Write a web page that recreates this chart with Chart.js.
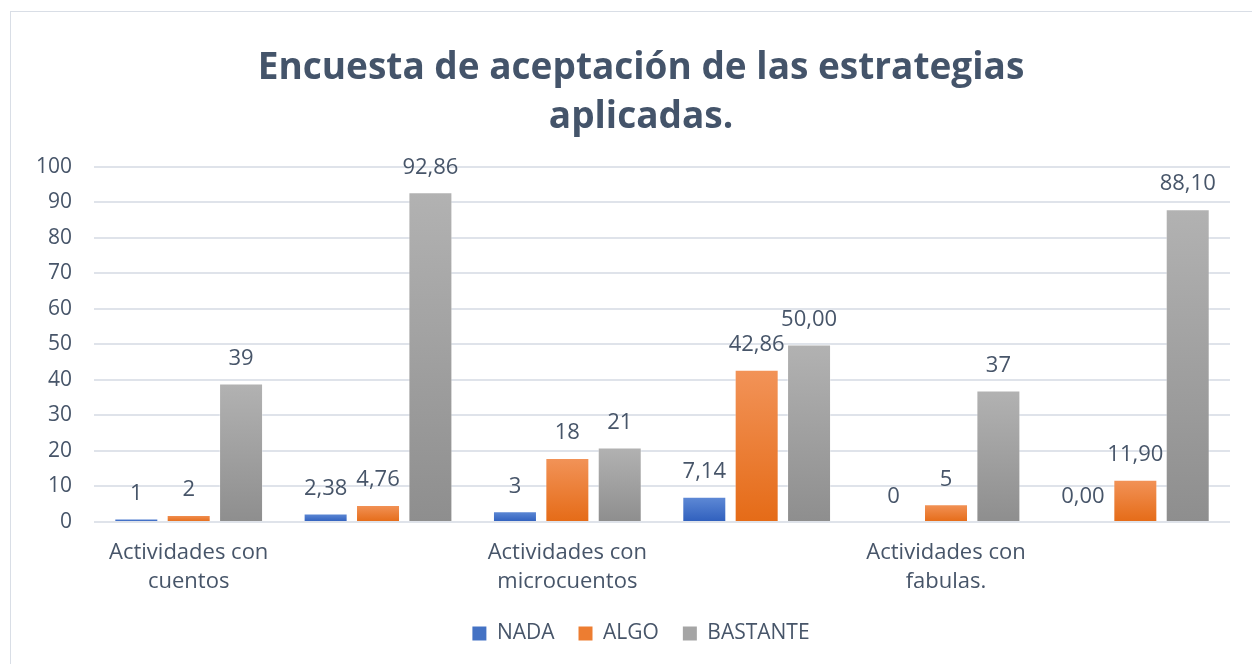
<!DOCTYPE html>
<html>
<head>
<meta charset="utf-8">
<script src="https://cdn.jsdelivr.net/npm/chart.js@4.4.1/dist/chart.umd.min.js"></script>
<style>
  html,body{margin:0;padding:0;background:#fff;overflow:hidden;}
  #marco{position:absolute;left:10px;top:11px;width:1280px;height:670px;border:1px solid #d9dee6;box-sizing:border-box;}
  #caja{position:absolute;left:0;top:0;width:1268px;height:664px;}
</style>
</head>
<body>
<div id="marco"></div>
<div id="caja"><canvas id="grafico"></canvas></div>
<script>
const categorie = [['Actividades con','cuentos'], '', ['Actividades con','microcuentos'], '', ['Actividades con','fabulas.'], ''];
const decimali = [0, 2, 0, 2, 0, 2];
const nada = [1, 2.38, 3, 7.14, 0, 0];
const algo = [2, 4.76, 18, 42.86, 5, 11.90];
const bastante = [39, 92.86, 21, 50.00, 37, 88.10];
const tickY = [0, 10, 20, 30, 40, 50, 60, 70, 80, 90, 100];

const testo = '#475569';

function gradiente(alto, basso){
  return function(c){
    const ch = c.chart;
    if(!ch.chartArea || c.dataIndex===undefined) return basso;
    const y = ch.scales.y;
    const v = c.dataset.data[c.dataIndex];
    const top = y.getPixelForValue(v), bot = y.getPixelForValue(0);
    if(bot-top < 1) return basso;
    const g = ch.ctx.createLinearGradient(0, top, 0, bot);
    g.addColorStop(0, alto);
    g.addColorStop(1, basso);
    return g;
  };
}

const etichette = {
  id:'etichette',
  afterDatasetsDraw(chart){
    const ctx = chart.ctx;
    ctx.save();
    ctx.font = '22px "Open Sans"';
    ctx.fillStyle = testo;
    ctx.textAlign = 'center';
    ctx.textBaseline = 'middle';
    chart.data.datasets.forEach((ds, di)=>{
      chart.getDatasetMeta(di).data.forEach((bar, i)=>{
        const s = ds.data[i].toFixed(decimali[i]).replace('.', ',');
        ctx.fillText(s, bar.x, bar.y - 25);
      });
    });
    ctx.restore();
  }
};

const ctx = document.getElementById('grafico').getContext('2d');
new Chart(ctx, {
  type:'bar',
  data:{
    labels:categorie,
    datasets:[
      {label:'NADA', data:nada, backgroundColor:gradiente('#5f8ad6','#2f5fbd'), borderColor:'rgba(255,255,255,0.35)', borderWidth:1},
      {label:'ALGO', data:algo, backgroundColor:gradiente('#f29358','#e56b17'), borderColor:'rgba(255,255,255,0.35)', borderWidth:1},
      {label:'BASTANTE', data:bastante, backgroundColor:gradiente('#b2b2b2','#8e8e8e'), borderColor:'rgba(255,255,255,0.35)', borderWidth:1}
    ]
  },
  plugins:[etichette],
  options:{
    responsive:true,
    maintainAspectRatio:false,
    animation:false,
    layout:{padding:{left:14, right:0, top:43, bottom:10}},
    datasets:{bar:{categoryPercentage:0.83, barPercentage:0.84}},
    plugins:{
      title:{
        display:true,
        text:['Encuesta de aceptación de las estrategias','aplicadas.'],
        color:'#44546a',
        font:{family:'"Open Sans"', size:37, weight:'bold', lineHeight:1.35},
        padding:{top:0, bottom:24}
      },
      legend:{
        position:'bottom',
        labels:{
          color:testo,
          font:{family:'"Open Sans"', size:21},
          boxWidth:14, boxHeight:14, padding:24,
          generateLabels(chart){
            const colori = ['#4472c4','#ed7d31','#a5a5a5'];
            return chart.data.datasets.map((d,i)=>({text:d.label, fillStyle:colori[i], strokeStyle:colori[i], lineWidth:0, datasetIndex:i, fontColor:testo}));
          }
        }
      },
      tooltip:{enabled:false}
    },
    scales:{
      x:{
        grid:{display:false},
        border:{display:false},
        ticks:{color:testo, font:{family:'"Open Sans"', size:22, lineHeight:1.32}, maxRotation:0, autoSkip:false, padding:8},
        afterFit(ax){ ax.height = 77; }
      },
      y:{
        min:0, max:100,
        afterBuildTicks(ax){ ax.ticks = tickY.map(v=>({value:v})); },
        grid:{color:'#dfe3ea', lineWidth:2, drawTicks:false},
        border:{display:false},
        ticks:{color:testo, font:{family:'"Open Sans"', size:21}, padding:22}
      },
      destra:{
        position:'right',
        grid:{display:false},
        border:{display:false},
        ticks:{display:false},
        afterFit(ax){ ax.width = 38; }
      }
    }
  }
});
</script>
</body>
</html>
